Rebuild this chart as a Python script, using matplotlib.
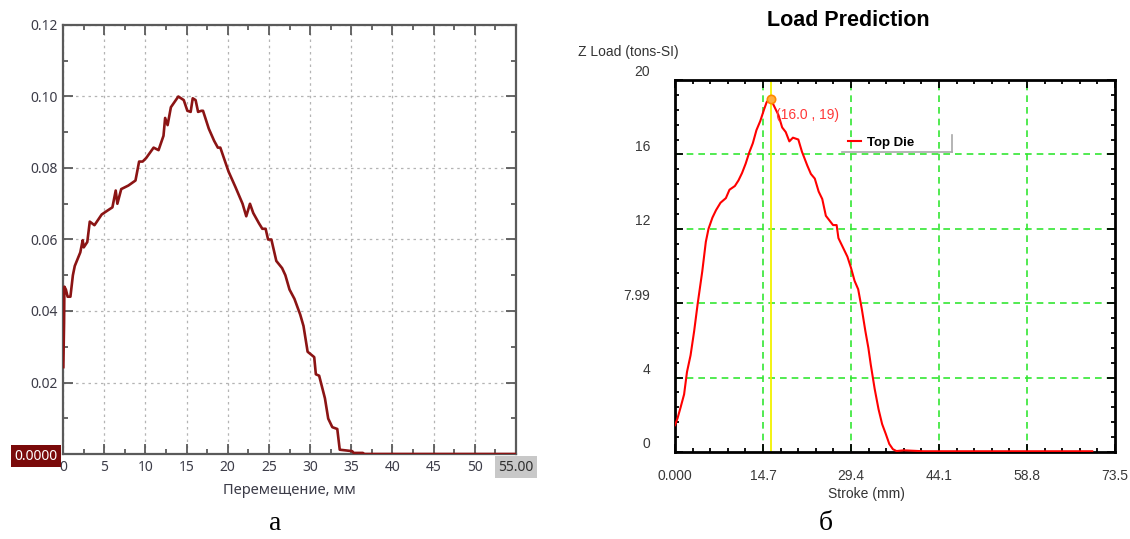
import matplotlib
matplotlib.use('Agg')
import matplotlib.pyplot as plt
from matplotlib.ticker import MultipleLocator
from matplotlib.transforms import ScaledTranslation
from matplotlib.lines import Line2D

W, H = 1130, 539

# --- panel а : load vs displacement (mm) ---
disp_a = [0.04, 0.13, 0.17, 0.35, 0.56, 0.9, 1.2, 1.43, 2.1, 2.39, 2.52, 2.95, 3.25, 3.82,
          4.7, 5.34, 6.0, 6.4, 6.6, 7.07, 7.94, 8.8, 9.24, 9.67, 10.1, 11.0, 11.6, 12.2,
          12.4, 12.7, 13.1, 14.0, 14.66, 15.1, 15.5, 15.75, 16.1, 16.4, 16.8, 17.0, 17.7,
          18.35, 18.8, 19.1, 20.1, 20.95, 21.8, 22.25, 22.7, 23.1, 23.8, 24.2, 24.6, 24.9,
          25.3, 25.9, 26.6, 27.0, 27.5, 28.1, 28.8, 29.2, 29.7, 30.5, 30.7, 31.1, 31.8,
          32.2, 32.7, 33.3, 33.6, 35.1, 35.3, 36.4, 36.6, 55.0]
load_a = [0.0243, 0.0367, 0.0468, 0.046, 0.044, 0.044, 0.050, 0.0526, 0.0564, 0.0598,
          0.0578, 0.0593, 0.065, 0.064, 0.067, 0.068, 0.069, 0.0737, 0.070, 0.0741,
          0.0751, 0.0765, 0.0818, 0.0818, 0.0828, 0.0857, 0.085, 0.089, 0.094, 0.092,
          0.097, 0.100, 0.099, 0.096, 0.0957, 0.0995, 0.099, 0.0957, 0.096, 0.096, 0.091,
          0.0876, 0.0857, 0.0857, 0.079, 0.0746, 0.070, 0.0665, 0.070, 0.0674, 0.0645,
          0.063, 0.063, 0.060, 0.060, 0.054, 0.052, 0.050, 0.046, 0.0434, 0.039, 0.0358,
          0.0286, 0.0271, 0.0223, 0.0219, 0.0156, 0.0099, 0.0075, 0.007, 0.0012, 0.0008,
          0.0003, 0.0003, 0.0, 0.0]

a_xticks = [0, 5, 10, 15, 20, 25, 30, 35, 40, 45, 50, 55]
a_xlabels = ['0', '5', '10', '15', '20', '25', '30', '35', '40', '45', '50', '55.00']
a_yticks = [0, 0.02, 0.04, 0.06, 0.08, 0.10, 0.12]
a_ylabels = ['0.0000', '0.02', '0.04', '0.06', '0.08', '0.10', '0.12']

# --- panel б : Load Prediction ---
stroke_b = [0.0, 0.42, 0.91, 1.52, 2.0, 2.6, 3.2, 3.8, 4.55, 5.15, 5.6, 6.25, 6.85, 7.6,
            8.5, 9.1, 10.0, 10.6, 11.2, 11.8, 12.4, 13.0, 13.6, 14.25, 14.86, 15.3, 15.8,
            16.1, 16.7, 17.3, 17.9, 18.5, 19.1, 19.7, 20.6, 21.2, 22.1, 22.7, 23.35, 24.0,
            24.6, 25.2, 25.8, 26.4, 27.0, 27.3, 28.2, 28.8, 29.4, 30.0, 30.6, 31.2, 31.8,
            32.3, 32.7, 33.35, 34.0, 34.6, 35.2, 35.8, 36.4, 37.0, 38.2, 41.5, 69.7]
load_b = [1.44, 1.81, 2.37, 3.1, 4.3, 5.2, 6.5, 8.0, 9.7, 11.3, 12.0, 12.6, 13.0, 13.4,
          13.65, 14.1, 14.3, 14.6, 15.0, 15.5, 16.1, 16.6, 17.3, 17.8, 18.4, 18.8, 19.0,
          18.9, 18.5, 18.1, 17.45, 17.2, 16.7, 16.9, 16.8, 16.15, 15.4, 14.95, 14.7, 14.0,
          13.6, 12.7, 12.45, 12.2, 12.2, 11.5, 10.9, 10.5, 9.9, 9.2, 8.75, 7.7, 6.5, 5.6,
          4.7, 3.4, 2.3, 1.5, 0.98, 0.43, 0.15, 0.05, 0.09, 0.04, 0.04]

peak_stroke = 16.0
peak_load = 19.0

b_xticks = [0, 14.7, 29.4, 44.1, 58.8, 73.5]
b_xlabels = ['0.000', '14.7', '29.4', '44.1', '58.8', '73.5']
b_yticks = [0, 4, 8, 12, 16, 20]
b_ylabels = ['0', '4', '7.99', '12', '16', '20']

fig = plt.figure(figsize=(W / 100, H / 100), dpi=100)


def px_axes(left, top, right, bottom):
    return fig.add_axes([left / W, 1 - bottom / H, (right - left) / W, (bottom - top) / H])


# ---------------- panel а ----------------
frame_a = '#5a5a5a'
txt_a = '#3c3c48'
ax1 = px_axes(63, 25, 516, 454)
ax1.plot(disp_a, load_a, color='#8b1414', linewidth=1.9, zorder=3)
ax1.set_xlim(0, 55)
ax1.set_ylim(0, 0.12)
ax1.set_xticks(a_xticks)
ax1.set_xticklabels(a_xlabels, fontfamily='Noto Sans', fontsize=10, color=txt_a)
ax1.set_yticks(a_yticks)
ax1.set_yticklabels(a_ylabels, fontfamily='Noto Sans', fontsize=10, color=txt_a)
ax1.xaxis.set_minor_locator(MultipleLocator(2.5))
ax1.yaxis.set_minor_locator(MultipleLocator(0.01))
ax1.tick_params(which='both', direction='in', top=True, right=True, color=frame_a, width=1.3)
ax1.tick_params(which='major', length=7, pad=4)
ax1.tick_params(which='minor', length=3.6)
ax1.grid(True, which='major', color='#b4b4b4', linestyle=(0, (2, 3)), linewidth=0.9)
for s in ax1.spines.values():
    s.set_color(frame_a)
    s.set_linewidth(1.6)

# boxed end labels
lab0 = ax1.get_yticklabels()[0]
lab0.set_color('white')
lab0.set_bbox(dict(facecolor='#7a0a0a', edgecolor='none', pad=2.5))
lab55 = ax1.get_xticklabels()[-1]
lab55.set_bbox(dict(facecolor='#c8c8c8', edgecolor='none', pad=2.5))
lab55.set_color('#303030')

fig.text(289.5 / W, 1 - 490 / H, 'Перемещение, мм', ha='center', va='center',
         fontfamily='Noto Sans', fontsize=10.5, color=txt_a)

# ---------------- panel б ----------------
ax2 = px_axes(675, 80, 1115, 452)
ax2.set_xlim(0, 73.5)
ax2.set_ylim(0, 20)
green = '#33e633'
for x in b_xticks[1:-1]:
    ax2.axvline(x, color=green, linestyle=(0, (4, 3)), linewidth=1.2, zorder=1)
for y in b_yticks[1:-1]:
    ax2.axhline(y, color=green, linestyle=(0, (4, 3)), linewidth=1.2, zorder=1)
ax2.axvline(peak_stroke, color='#f2f200', linewidth=1.3, zorder=2)
ax2.plot(stroke_b, load_b, color='#ff0000', linewidth=1.5, zorder=3, label='Top Die')
ax2.plot([peak_stroke], [peak_load], marker='o', markersize=6, markerfacecolor='#ffb040',
         markeredgecolor='#ff8800', markeredgewidth=1.2, linestyle='none', zorder=4)
ax2.annotate('(16.0 , 19)', (peak_stroke, peak_load), xytext=(3.5, -11.5),
             textcoords='offset points', ha='left', va='center', color='#ff3838',
             fontfamily='Liberation Sans', fontsize=10)

ax2.set_xticks(b_xticks)
ax2.set_xticklabels(b_xlabels, fontfamily='Liberation Sans', fontsize=10, color='#383838')
ax2.set_yticks(b_yticks)
ax2.set_yticklabels(b_ylabels, fontfamily='Liberation Sans', fontsize=10, color='#383838')
ax2.xaxis.set_minor_locator(MultipleLocator(14.7 / 5))
ax2.yaxis.set_minor_locator(MultipleLocator(0.8))
ax2.tick_params(which='both', direction='in', top=True, right=True, color='black', width=1.3)
ax2.tick_params(which='major', length=5.5)
ax2.tick_params(which='minor', length=3)
ax2.tick_params(axis='x', which='major', pad=12)
ax2.tick_params(axis='y', which='major', pad=18)
shift = ScaledTranslation(0, 6.5 / 72, fig.dpi_scale_trans)
for lab in ax2.get_yticklabels():
    lab.set_transform(lab.get_transform() + shift)
for s in ax2.spines.values():
    s.set_color('black')
    s.set_linewidth(2)

leg = ax2.legend(loc='upper left', bbox_to_anchor=((843 - 675) / 440, 1 - (131 - 80) / 372),
                 frameon=False, handlelength=1.0, handletextpad=0.4, borderaxespad=0,
                 prop={'family': 'Liberation Sans', 'weight': 'bold', 'size': 9.5})
# legend box shadow edges (bottom and right)
fig.add_artist(Line2D([842 / W, 952 / W], [1 - 152 / H, 1 - 152 / H], color='#a8a8a8', lw=1.2))
fig.add_artist(Line2D([952 / W, 952 / W], [1 - 135 / H, 1 - 152 / H], color='#a8a8a8', lw=1.2))

fig.text(848 / W, 1 - 20 / H, 'Load Prediction', ha='center', va='center',
         fontfamily='Liberation Sans', fontweight='bold', fontsize=15.5)
fig.text(578 / W, 1 - 52 / H, 'Z Load (tons-SI)', ha='left', va='center',
         fontfamily='Liberation Sans', fontsize=10, color='#333333')
fig.text(866 / W, 1 - 494 / H, 'Stroke (mm)', ha='center', va='center',
         fontfamily='Liberation Sans', fontsize=10, color='#333333')

# panel letters
fig.text(275 / W, 1 - 524 / H, 'а', ha='center', va='center',
         fontfamily='Liberation Serif', fontsize=20)
fig.text(826 / W, 1 - 524 / H, 'б', ha='center', va='center',
         fontfamily='Liberation Serif', fontsize=20)

fig.savefig('out.png', dpi=100)
